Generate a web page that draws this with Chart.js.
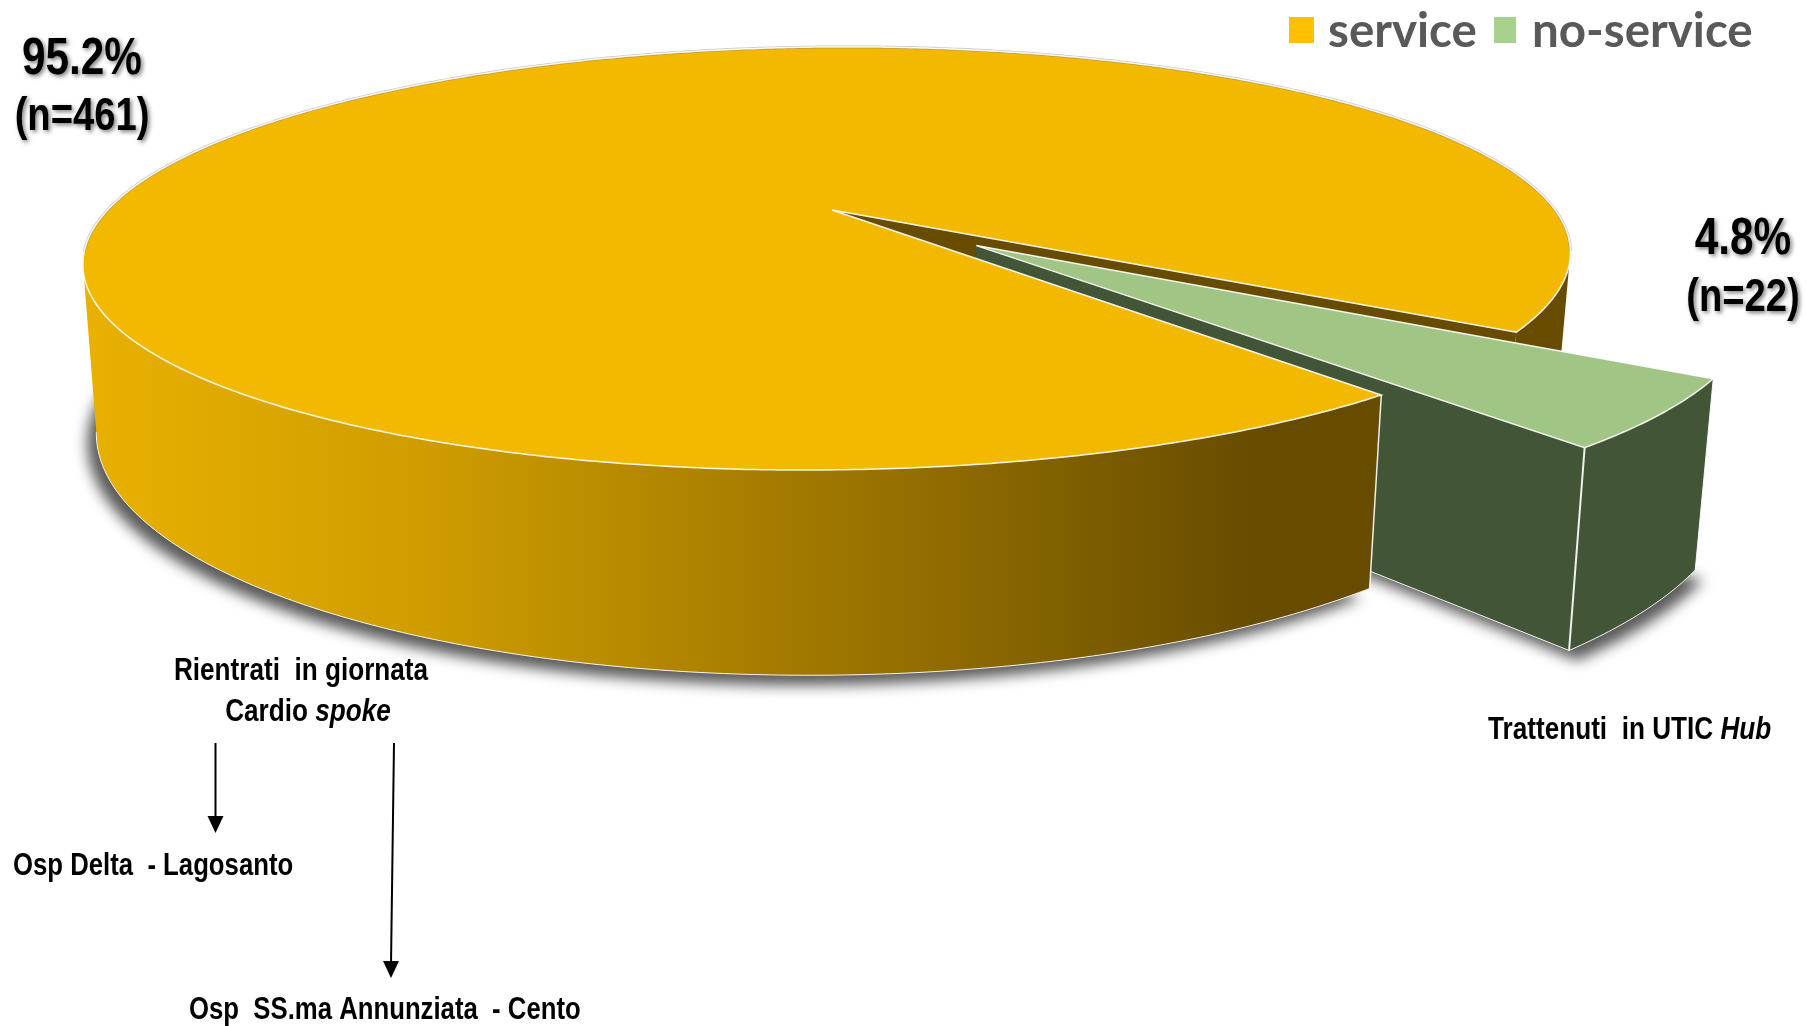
<!DOCTYPE html>
<html lang="en">
<head>
    <meta charset="UTF-8">
    <title>Service / no-service</title>
    <style>
        body {
            margin: 0;
            background-color: #ffffff;
        }

        .chart-container {
            position: relative;
            width: 1807px;
            height: 1026px;
        }
    </style>
</head>
<body>

<div class="chart-container">
    <canvas id="serviceChart"></canvas>
</div>

<script src="https://cdn.jsdelivr.net/npm/chart.js"></script>
<script>
    // Chart values
    const categories = ['service', 'no-service'];
    const percentValues = [95.2, 4.8];
    const patientCounts = [461, 22];

    // Colours
    const legendColors = ['#FFC000', '#A9D18E'];
    const topColors = ['#F3B900', '#A0C585'];
    const sideColors = ['#674C00', '#435537'];
    const wallGradientStops = ['#E9B100', '#CE9C00', '#A37A00', '#674C00'];

    // Pie radius and how far the small slice is pulled out, in px
    const pieRadius = 300;
    const sliceOffsets = [0, 78];

    // Perspective of the pie: top and bottom discs of the cylinder
    const depth = 0.229;
    const skew = -0.007;
    const topDisc = { cx: 832, cy: 210, a: 724, b: 200.4, d: -5.4 };
    const bottomDisc = { cx: 831, cy: 371, a: 710, b: 234.5, d: -5 };

    const DEG = Math.PI / 180;
    const LABEL_FONT = '"Liberation Sans", Arial, sans-serif';
    const LABEL_STRETCH = 0.83;

    function project(disc, u, v) {
        const w = 1 - depth * v - skew * u;
        return {
            x: disc.cx + disc.a * u / w,
            y: disc.cy + (disc.b * v + disc.d * u) / w
        };
    }

    // Reads the geometry the pie controller computed for one slice
    function sliceShape(arc) {
        const { startAngle, endAngle, outerRadius } = arc.getProps(['startAngle', 'endAngle', 'outerRadius']);
        const off = arc.options.offset / outerRadius;
        const mid = (startAngle + endAngle) / 2;
        return {
            start: startAngle,
            end: endAngle,
            ox: off * Math.cos(mid),
            oy: off * Math.sin(mid)
        };
    }

    function rimPoint(disc, shape, angle) {
        return project(disc, shape.ox + Math.cos(angle), shape.oy + Math.sin(angle));
    }

    function traceWedge(ctx, disc, shape) {
        const apex = project(disc, shape.ox, shape.oy);
        ctx.beginPath();
        ctx.moveTo(apex.x, apex.y);
        for (let a = shape.start; a < shape.end; a += DEG / 2) {
            const p = rimPoint(disc, shape, a);
            ctx.lineTo(p.x, p.y);
        }
        const last = rimPoint(disc, shape, shape.end);
        ctx.lineTo(last.x, last.y);
        ctx.closePath();
    }

    // Outer wall between two angles, top rim forward and bottom rim back
    function traceWall(ctx, shape, from, to) {
        ctx.beginPath();
        for (let a = from; a < to; a += DEG / 2) {
            const p = rimPoint(topDisc, shape, a);
            ctx.lineTo(p.x, p.y);
        }
        const topEnd = rimPoint(topDisc, shape, to);
        ctx.lineTo(topEnd.x, topEnd.y);
        for (let a = to; a > from; a -= DEG / 2) {
            const p = rimPoint(bottomDisc, shape, a);
            ctx.lineTo(p.x, p.y);
        }
        const bottomEnd = rimPoint(bottomDisc, shape, from);
        ctx.lineTo(bottomEnd.x, bottomEnd.y);
        ctx.closePath();
    }

    // Flat face running from the centre of the slice out to the rim
    function traceRadialFace(ctx, shape, angle) {
        const a = project(topDisc, shape.ox, shape.oy);
        const b = rimPoint(topDisc, shape, angle);
        const c = rimPoint(bottomDisc, shape, angle);
        const d = project(bottomDisc, shape.ox, shape.oy);
        ctx.beginPath();
        ctx.moveTo(a.x, a.y);
        ctx.lineTo(b.x, b.y);
        ctx.lineTo(c.x, c.y);
        ctx.lineTo(d.x, d.y);
        ctx.closePath();
    }

    function strokeEdge(ctx, p, q, color, width) {
        ctx.strokeStyle = color;
        ctx.lineWidth = width;
        ctx.beginPath();
        ctx.moveTo(p.x, p.y);
        ctx.lineTo(q.x, q.y);
        ctx.stroke();
    }

    function strokeRim(ctx, disc, shape, from, to, color, width) {
        ctx.strokeStyle = color;
        ctx.lineWidth = width;
        ctx.beginPath();
        for (let a = from; a < to; a += DEG / 2) {
            const p = rimPoint(disc, shape, a);
            ctx.lineTo(p.x, p.y);
        }
        const p = rimPoint(disc, shape, to);
        ctx.lineTo(p.x, p.y);
        ctx.stroke();
    }

    function drawGroundShadow(ctx, main, slice) {
        ctx.save();
        ctx.shadowColor = 'rgba(0, 0, 0, 0.65)';
        ctx.shadowBlur = 14;
        ctx.shadowOffsetX = -9;
        ctx.shadowOffsetY = 10;
        ctx.fillStyle = '#999999';
        traceWedge(ctx, bottomDisc, main);
        ctx.fill();
        ctx.shadowOffsetX = 8;
        traceWedge(ctx, bottomDisc, slice);
        ctx.fill();
        ctx.restore();
    }

    function drawPie(ctx, chart) {
        const arcs = chart.getDatasetMeta(0).data;
        const main = sliceShape(arcs[0]);
        const slice = sliceShape(arcs[1]);
        const wallEnd = 167 * DEG;
        const white = 'rgba(255, 255, 255, 0.9)';

        drawGroundShadow(ctx, main, slice);

        // Back part of the big slice, seen through the gap and at the right
        ctx.fillStyle = sideColors[0];
        traceRadialFace(ctx, main, main.end);
        ctx.fill();
        traceWall(ctx, main, main.end - 21 * DEG, main.end);
        ctx.fill();

        // Pulled-out slice
        ctx.fillStyle = sideColors[1];
        traceRadialFace(ctx, slice, slice.end);
        ctx.fill();
        traceWall(ctx, slice, slice.start, slice.end);
        ctx.fill();
        const cornerTop = rimPoint(topDisc, slice, slice.end);
        const cornerBottom = rimPoint(bottomDisc, slice, slice.end);
        strokeEdge(ctx, cornerTop, cornerBottom, white, 2);
        strokeRim(ctx, bottomDisc, slice, slice.start, slice.end, white, 1);
        strokeEdge(ctx, rimPoint(topDisc, slice, slice.start), rimPoint(bottomDisc, slice, slice.start), white, 1);
        strokeEdge(ctx, cornerBottom, project(bottomDisc, slice.ox, slice.oy), white, 1);
        ctx.fillStyle = topColors[1];
        traceWedge(ctx, topDisc, slice);
        ctx.fill();
        ctx.strokeStyle = white;
        ctx.lineWidth = 1.5;
        ctx.stroke();

        // Front wall of the big slice, darkening towards the gap
        const gradient = ctx.createLinearGradient(83, 0, 1260, 0);
        wallGradientStops.forEach((color, i) => {
            gradient.addColorStop(i * 0.3 + (i === 3 ? 0.1 : 0), color);
        });
        ctx.fillStyle = gradient;
        traceWall(ctx, main, main.start, wallEnd);
        ctx.fill();
        strokeRim(ctx, bottomDisc, main, main.start, wallEnd, white, 1);
        strokeEdge(ctx, rimPoint(topDisc, main, main.start), rimPoint(bottomDisc, main, main.start), white, 1.5);

        // Top of the big slice
        ctx.fillStyle = topColors[0];
        traceWedge(ctx, topDisc, main);
        ctx.fill();
        strokeRim(ctx, topDisc, main, 170 * DEG, main.end - 21 * DEG, 'rgba(120, 120, 120, 0.4)', 3);
        ctx.strokeStyle = white;
        ctx.lineWidth = 1.5;
        traceWedge(ctx, topDisc, main);
        ctx.stroke();
    }

    // Text made of plain and italic pieces, placed as one narrowed line
    function drawRuns(ctx, runs, x, y, size, align) {
        const fontFor = run => `${run.italic ? 'italic ' : ''}bold ${size}px ${LABEL_FONT}`;
        let width = 0;
        runs.forEach(run => {
            ctx.font = fontFor(run);
            width += ctx.measureText(run.text).width;
        });
        width *= LABEL_STRETCH;
        ctx.save();
        ctx.translate(align === 'center' ? x - width / 2 : x, y);
        ctx.scale(LABEL_STRETCH, 1);
        ctx.textAlign = 'left';
        ctx.textBaseline = 'alphabetic';
        let left = 0;
        runs.forEach(run => {
            ctx.font = fontFor(run);
            ctx.fillText(run.text, left, 0);
            left += ctx.measureText(run.text).width;
        });
        ctx.restore();
    }

    function drawArrow(ctx, x1, y1, x2, y2) {
        ctx.strokeStyle = '#000000';
        ctx.fillStyle = '#000000';
        ctx.lineWidth = 2;
        ctx.beginPath();
        ctx.moveTo(x1, y1);
        ctx.lineTo(x2, y2 - 14);
        ctx.stroke();
        ctx.beginPath();
        ctx.moveTo(x2 - 8, y2 - 17);
        ctx.lineTo(x2 + 8, y2 - 17);
        ctx.lineTo(x2, y2);
        ctx.closePath();
        ctx.fill();
    }

    function drawLegend(ctx) {
        const boxes = [{ x: 1289, w: 25 }, { x: 1494, w: 22 }];
        const textLeft = [1328, 1532];
        ctx.textAlign = 'left';
        ctx.textBaseline = 'alphabetic';
        ctx.font = 'bold 47.5px Lato';
        categories.forEach((name, i) => {
            ctx.fillStyle = legendColors[i];
            ctx.fillRect(boxes[i].x, 17, boxes[i].w, 26);
            ctx.fillStyle = '#595959';
            ctx.fillText(name, textLeft[i], 47);
        });
    }

    function drawLabels(ctx) {
        ctx.fillStyle = '#000000';

        // Value labels with a soft shadow
        ctx.save();
        ctx.shadowColor = 'rgba(0, 0, 0, 0.5)';
        ctx.shadowBlur = 4;
        ctx.shadowOffsetX = 2;
        ctx.shadowOffsetY = 2;
        drawRuns(ctx, [{ text: `${percentValues[0]}%` }], 82, 74, 51, 'center');
        drawRuns(ctx, [{ text: `(n=${patientCounts[0]})` }], 82, 130, 46, 'center');
        drawRuns(ctx, [{ text: `${percentValues[1]}%` }], 1743, 254, 51, 'center');
        drawRuns(ctx, [{ text: `(n=${patientCounts[1]})` }], 1743, 311, 46, 'center');
        ctx.restore();

        ctx.fillStyle = '#000000';
        drawRuns(ctx, [{ text: 'Rientrati  in giornata' }], 301, 680, 31.5, 'center');
        drawRuns(ctx, [{ text: 'Cardio ' }, { text: 'spoke', italic: true }], 308, 721, 31.5, 'center');
        drawRuns(ctx, [{ text: 'Trattenuti  in UTIC ' }, { text: 'Hub', italic: true }], 1488, 739, 31.5, 'left');
        drawRuns(ctx, [{ text: 'Osp Delta  - Lagosanto' }], 13, 875, 31, 'left');
        drawRuns(ctx, [{ text: 'Osp  SS.ma Annunziata  - Cento' }], 189, 1019, 31, 'left');

        drawArrow(ctx, 215.5, 743, 215.5, 833);
        drawArrow(ctx, 394, 743, 391, 978);
    }

    // The pie controller lays out the slices; this plugin paints them as a cylinder
    const cylinderPie = {
        id: 'cylinderPie',
        beforeDatasetsDraw(chart) {
            drawPie(chart.ctx, chart);
            drawLegend(chart.ctx);
            drawLabels(chart.ctx);
            return false;
        }
    };

    new Chart(document.getElementById('serviceChart'), {
        type: 'pie',
        data: {
            labels: categories,
            datasets: [{
                data: percentValues,
                backgroundColor: legendColors,
                offset: sliceOffsets,
                borderWidth: 0
            }]
        },
        options: {
            responsive: true,
            maintainAspectRatio: false,
            animation: false,
            events: [],
            rotation: 141.2,
            radius: pieRadius,
            plugins: {
                legend: { display: false },
                tooltip: { enabled: false }
            }
        },
        plugins: [cylinderPie]
    });
</script>

</body>
</html>
